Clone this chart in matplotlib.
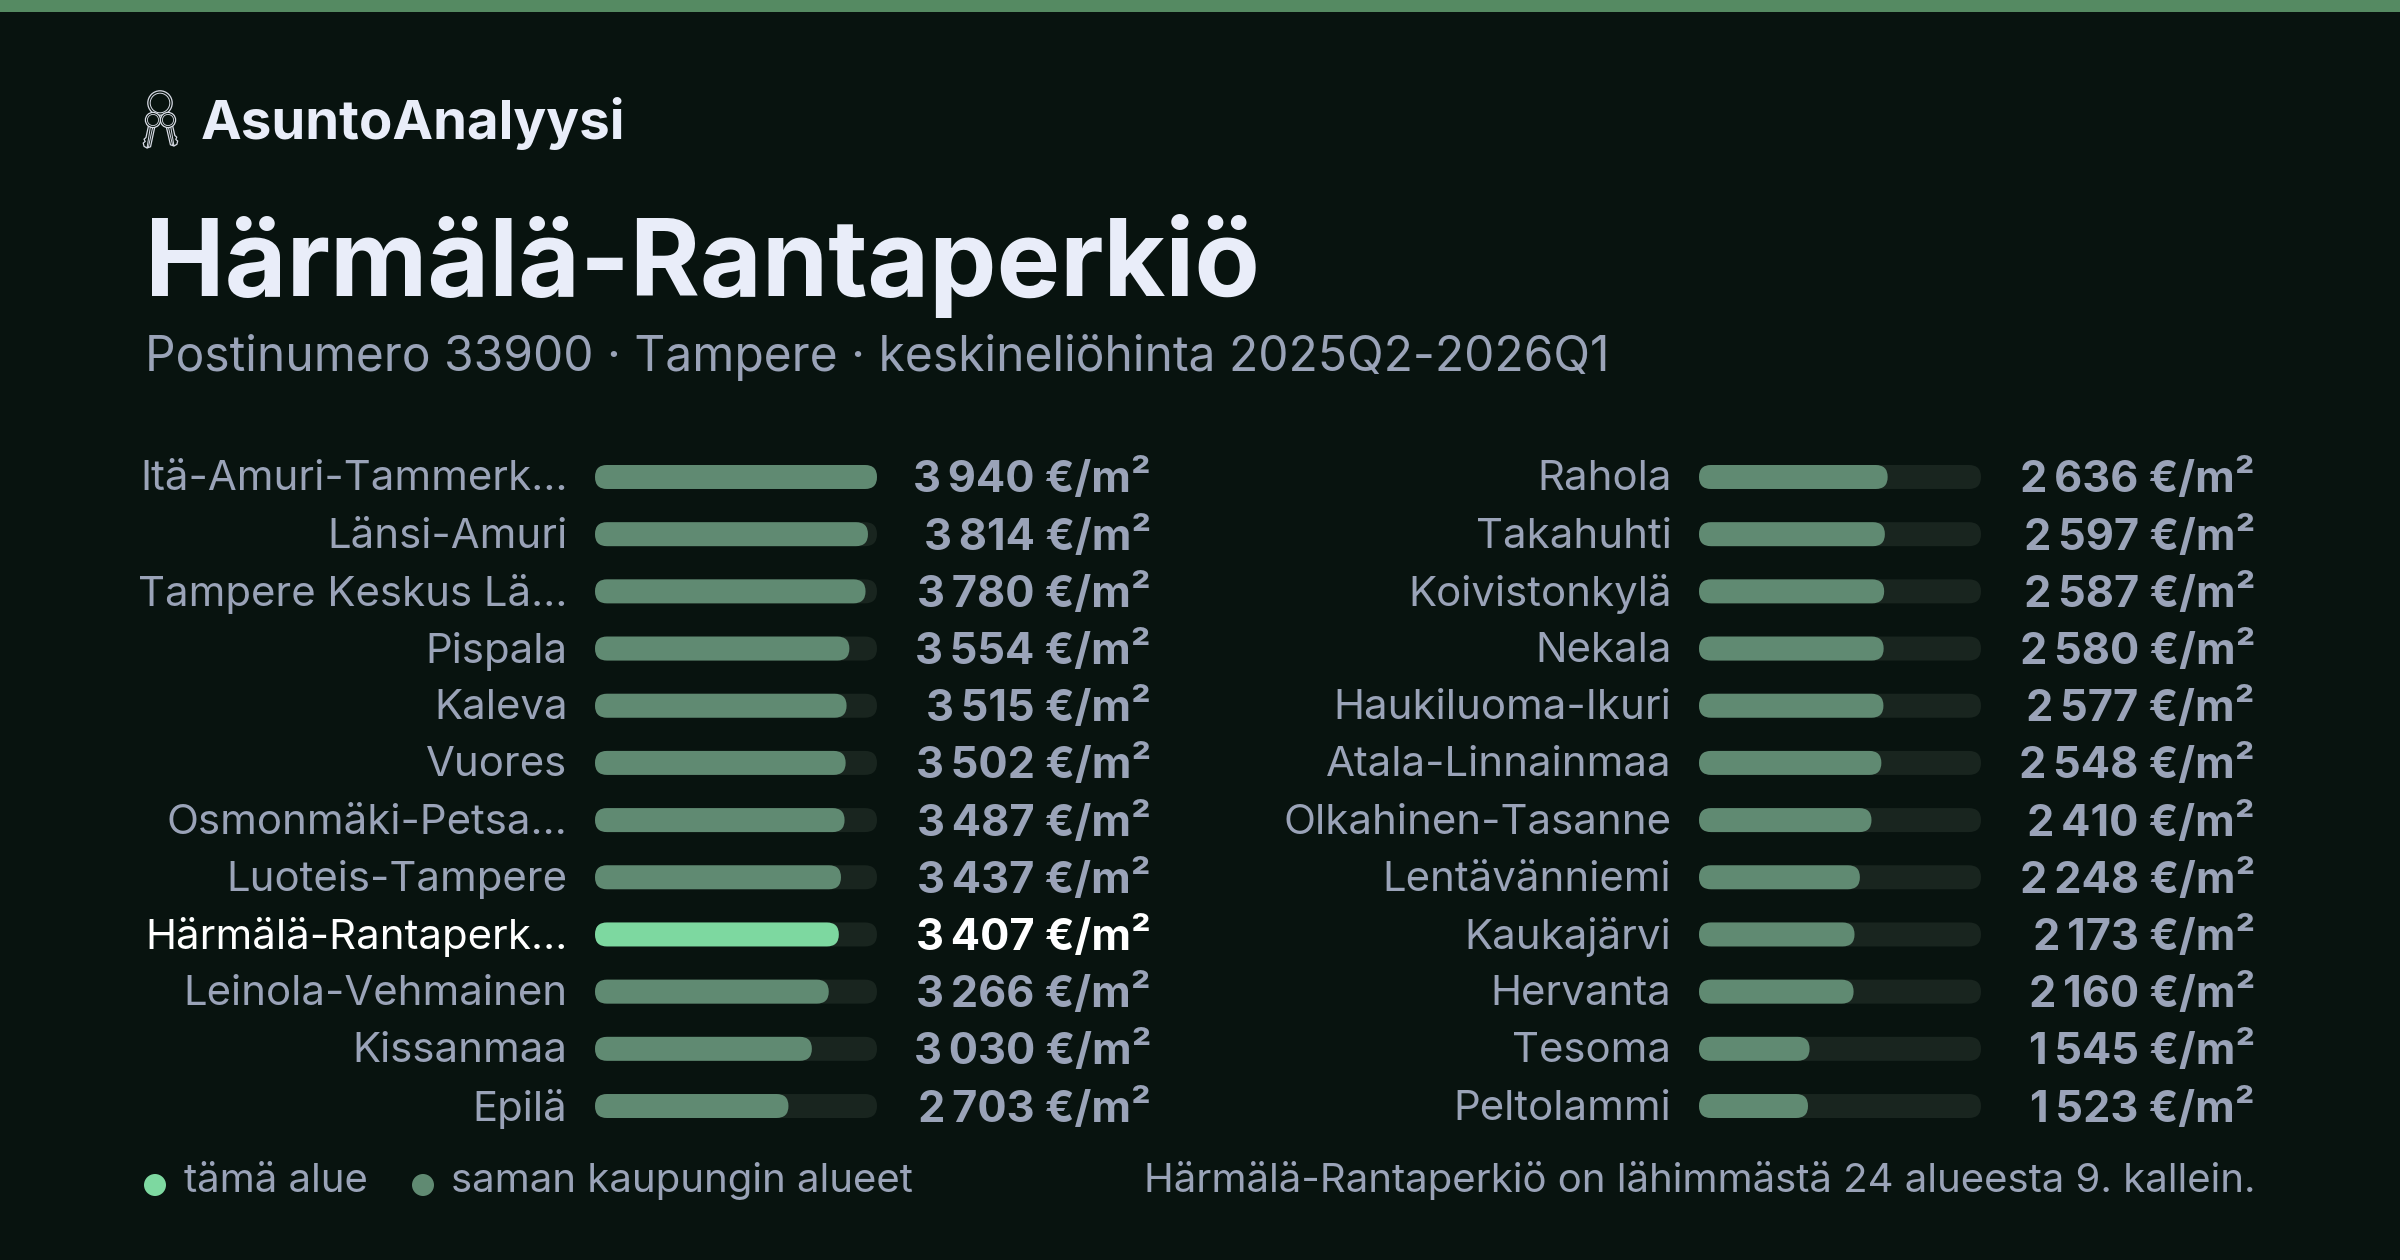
import math
import matplotlib
matplotlib.use("Agg")
import matplotlib.pyplot as plt
from matplotlib.patches import FancyBboxPatch, Circle, Rectangle, Polygon
from matplotlib.transforms import ScaledTranslation

plt.rcParams['font.family'] = ['Inter', 'DejaVu Sans']

left_names = ["Itä-Amuri-Tammerk…", "Länsi-Amuri", "Tampere Keskus Lä…", "Pispala", "Kaleva", "Vuores",
              "Osmonmäki-Petsa…", "Luoteis-Tampere", "Härmälä-Rantaperk…", "Leinola-Vehmainen", "Kissanmaa", "Epilä"]
left_vals = [3940, 3814, 3780, 3554, 3515, 3502, 3487, 3437, 3407, 3266, 3030, 2703]
right_names = ["Rahola", "Takahuhti", "Koivistonkylä", "Nekala", "Haukiluoma-Ikuri", "Atala-Linnainmaa",
               "Olkahinen-Tasanne", "Lentävänniemi", "Kaukajärvi", "Hervanta", "Tesoma", "Peltolammi"]
right_vals = [2636, 2597, 2587, 2580, 2577, 2548, 2410, 2248, 2173, 2160, 1545, 1523]
highlight = "Härmälä-Rantaperk…"
max_val = 3940

BG = "#08130F"; TOP = "#558A62"; BAR = "#608A72"; HI = "#7DD8A0"; TRACK = "#19251F"
MUTED = "#9AA3B8"; TITLE = "#E9EDF9"; WHITE = "#FFFFFF"

W, H = 2400, 1260
fig = plt.figure(figsize=(W/100, H/100), dpi=100, facecolor=BG)
px = 72/100

over = fig.add_axes([0, 0, 1, 1], zorder=0)
over.set_xlim(0, W); over.set_ylim(H, 0); over.axis("off")
over.add_patch(Rectangle((0, 0), W, 12, fc=TOP, ec="none"))


def key(cx, cy, ex, ey, side, z):
    """Outlined key: round head at (cx, cy), tip at (ex, ey), teeth on one side."""
    L = math.hypot(ex-cx, ey-cy)
    ux, uy = (ex-cx)/L, (ey-cy)/L
    vx, vy = -uy*side, ux*side
    def p(a, b):
        return (cx+ux*a+vx*b, cy+uy*a+vy*b)
    for w, col, lw in [(3.2, "#D8DCE6", 0.9), (1.2, "#D8DCE6", 0.7)]:
        pts = [p(6, -w), p(L-2, -w), p(L, 0)]
        if w > 2:
            pts += [p(L-1, w), p(L-4, w+1.5), p(L-6, w), p(L-8, w+1.5), p(L-10, w), p(6, w)]
        else:
            pts += [p(6, w)]
        over.add_patch(Polygon(pts, closed=True, fc=BG, ec=col, lw=lw, zorder=z))
    over.add_patch(Circle((cx, cy), 7.6, fc=BG, ec="#D8DCE6", lw=0.9, zorder=z+0.1))
    over.add_patch(Circle((cx, cy), 5.6, fc=BG, ec="#D8DCE6", lw=0.6, zorder=z+0.1))


over.add_patch(Circle((160, 103), 12.2, fc="none", ec="#D8DCE6", lw=0.9, zorder=2))
over.add_patch(Circle((160, 103), 9.8, fc="none", ec="#D8DCE6", lw=0.7, zorder=2))
key(153, 120, 147, 148, 1, 3)
key(168, 120, 174, 146, -1, 4)

over.text(201, 139, "AsuntoAnalyysi", color=TITLE, fontsize=39.3, fontweight="bold", ha="left", va="baseline")
over.text(145, 296, "Härmälä-Rantaperkiö", color=TITLE, fontsize=76.9, fontweight="bold", ha="left", va="baseline")
over.text(145, 371, "Postinumero 33900 · Tampere · keskineliöhinta 2025Q2-2026Q1", color=MUTED, fontsize=34.5, ha="left", va="baseline")

over.add_patch(Circle((155, 1185), 11, fc=HI, ec="none"))
over.text(184, 1192, "tämä alue", color=MUTED, fontsize=28.9, ha="left", va="baseline")
over.add_patch(Circle((423, 1185), 11, fc=BAR, ec="none"))
over.text(451, 1192, "saman kaupungin alueet", color=MUTED, fontsize=28.9, ha="left", va="baseline")
over.text(2256, 1192, "Härmälä-Rantaperkiö on lähimmästä 24 alueesta 9. kallein.", color=MUTED, fontsize=28.9, ha="right", va="baseline")

ROW = 57.2
def fmt(v):
    return f"{v:,}".replace(",", "\u2009") + " €/m²"

def column(x0, names, vals):
    top, bottom = 477 - ROW/2, 1106 + ROW/2
    ax = fig.add_axes([x0/W, 1 - bottom/H, 282/W, (bottom-top)/H], zorder=1)
    ax.set_xlim(0, max_val); ax.set_ylim(len(vals)-0.5, -0.5)
    ax.patch.set_alpha(0)
    for s in ax.spines.values():
        s.set_visible(False)
    ax.set_xticks([])
    ax.set_yticks(range(len(vals))); ax.set_yticklabels(names)
    ax.tick_params(axis="y", length=0, pad=27.5*px)
    xu, yu = max_val/282, 1/ROW
    h = 24*yu
    box = dict(boxstyle=f"round,pad=0,rounding_size={12*xu}", mutation_aspect=yu/xu, ec="none")
    for i, (n, v) in enumerate(zip(names, vals)):
        hi = n == highlight
        ax.add_patch(FancyBboxPatch((0, i-h/2), max_val, h, fc=TRACK, **box))
        ax.add_patch(FancyBboxPatch((0, i-h/2), v, h, fc=HI if hi else BAR, **box))
        ax.annotate(fmt(v), xy=(1, i), xycoords=ax.get_yaxis_transform(), xytext=(274*px, 1*px), textcoords="offset points",
                    ha="right", va="center_baseline", color=WHITE if hi else MUTED, fontsize=31.2, fontweight="bold")
    shift = ScaledTranslation(0, 1.5/100, fig.dpi_scale_trans)
    for lab, n in zip(ax.get_yticklabels(), names):
        lab.set_color(WHITE if n == highlight else MUTED)
        lab.set_fontsize(30.2)
        lab.set_transform(lab.get_transform() + shift)
    return ax

column(595, left_names, left_vals)
column(1699, right_names, right_vals)

fig.savefig("out.png", dpi=100, facecolor=BG)
